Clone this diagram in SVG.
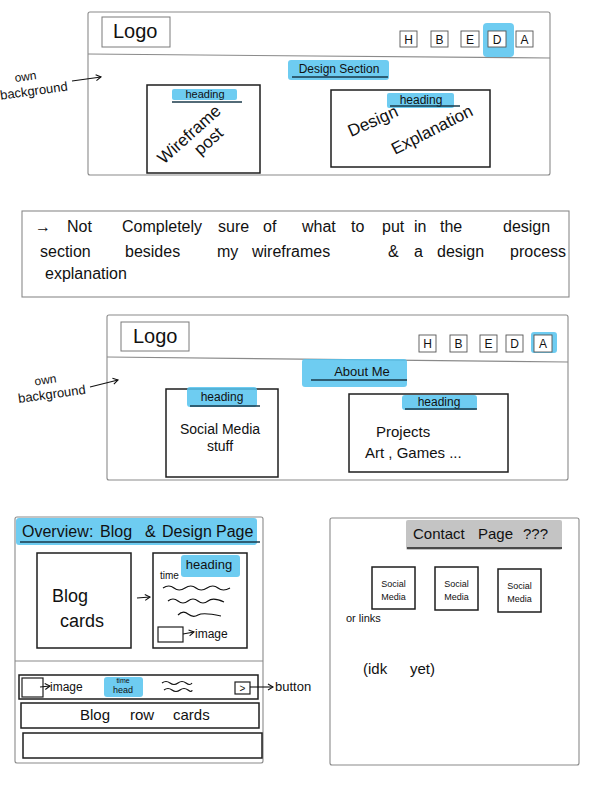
<svg xmlns="http://www.w3.org/2000/svg" width="589" height="786" viewBox="0 0 589 786">
<defs>
<marker id="ah" markerWidth="8" markerHeight="8" refX="6" refY="4" orient="auto" markerUnits="userSpaceOnUse">
<path d="M1,1 L6,4 L1,7" fill="none" stroke="#111" stroke-width="1.1"/>
</marker>
<style>
.frame{fill:#fff;stroke:#8a8a8a;stroke-width:1.1}
.hline{fill:none;stroke:#8a8a8a;stroke-width:1.1}
.logo{fill:#fff;stroke:#7a7a7a;stroke-width:1}
.nav{fill:#fff;stroke:#555;stroke-width:0.9}
.card{fill:none;stroke:#1e1e1e;stroke-width:1.5}
.hl{fill:#55c3ee;opacity:0.85}
.hlg{fill:#c4c4c4}
.ul{fill:none;stroke:#1a3a4a;stroke-width:1.5}
.t{font-family:"Liberation Sans","DejaVu Sans",sans-serif;fill:#111}
.con{fill:none;stroke:#111;stroke-width:1.1}
.sq{fill:none;stroke:#111;stroke-width:1.2}
</style>
</defs>

<!-- Top: Design section page -->
<g id="design-page">
<rect class="frame" x="88" y="12" width="462" height="163" rx="2"/>
<path class="hline" d="M88,54 L550,58"/>
<rect class="logo" x="102" y="17" width="68" height="30"/>
<text class="t" x="113" y="38" font-size="20">Logo</text>
<rect class="hl" x="483" y="23" width="31" height="34" rx="4"/>
<rect class="nav" x="400" y="31" width="17" height="16"/>
<rect class="nav" x="431" y="31" width="17" height="16"/>
<rect class="nav" x="461" y="31" width="18" height="16"/>
<rect class="nav" x="488" y="31" width="18" height="16"/>
<rect class="nav" x="516" y="31" width="17" height="16"/>
<text class="t" x="408.5" y="44" font-size="12" text-anchor="middle">H</text>
<text class="t" x="439.5" y="44" font-size="12" text-anchor="middle">B</text>
<text class="t" x="470" y="44" font-size="12" text-anchor="middle">E</text>
<text class="t" x="497" y="44" font-size="12" text-anchor="middle">D</text>
<text class="t" x="524.5" y="44" font-size="12" text-anchor="middle">A</text>
<rect class="hl" x="288" y="60" width="101" height="20" rx="3"/>
<text class="t" x="339" y="73" font-size="12" text-anchor="middle">Design Section</text>
<path class="ul" d="M292,77 L388,77"/>
<text class="t" x="15" y="80" font-size="12" transform="rotate(-8 30 80)">own</text>
<text class="t" x="0" y="95" font-size="13" transform="rotate(-8 35 92)">background</text>
</g>
<g id="design-card-1">
<rect class="card" x="147" y="85" width="113" height="88"/>
<rect class="hl" x="172" y="89" width="65" height="11" rx="2"/>
<text class="t" x="205" y="98" font-size="11" text-anchor="middle">heading</text>
<path class="ul" d="M172,102 L242,102"/>
<g transform="rotate(-42 195 138)">
<text class="t" x="193" y="137" font-size="17" text-anchor="middle">Wireframe</text>
<text class="t" x="203" y="155" font-size="17" text-anchor="middle">post</text>
</g>
</g>
<g id="design-card-2">
<rect class="card" x="331" y="90" width="159" height="77"/>
<rect class="hl" x="387" y="93" width="67" height="15" rx="2"/>
<text class="t" x="421" y="104" font-size="12" text-anchor="middle">heading</text>
<path class="ul" d="M390,106 L460,106"/>
<text class="t" x="351" y="137" font-size="17" transform="rotate(-24 351 137)">Design</text>
<text class="t" x="395" y="155" font-size="17" transform="rotate(-27 395 155)">Explanation</text>
</g>

<!-- Note box -->
<g id="note">
<rect class="frame" x="22" y="211" width="547" height="86"/>
<text class="t" y="232" font-size="16"><tspan x="35">→</tspan><tspan x="67">Not</tspan><tspan x="122">Completely</tspan><tspan x="218">sure</tspan><tspan x="263">of</tspan><tspan x="302">what</tspan><tspan x="351">to</tspan><tspan x="382">put</tspan><tspan x="414">in</tspan><tspan x="440">the</tspan><tspan x="503">design</tspan></text>
<text class="t" y="257" font-size="16"><tspan x="40">section</tspan><tspan x="125">besides</tspan><tspan x="217">my</tspan><tspan x="252">wireframes</tspan><tspan x="388">&amp;</tspan><tspan x="414">a</tspan><tspan x="437">design</tspan><tspan x="510">process</tspan></text>
<text class="t" x="45" y="279" font-size="16">explanation</text>
</g>

<!-- About me page -->
<g id="about-page">
<rect class="frame" x="107" y="315" width="461" height="165" rx="2"/>
<path class="hline" d="M107,357 L568,362"/>
<rect class="logo" x="121" y="322" width="68" height="29"/>
<text class="t" x="133" y="343" font-size="20">Logo</text>
<rect class="hl" x="531" y="332" width="26" height="21" rx="3"/>
<rect class="nav" x="419" y="335" width="17" height="17"/>
<rect class="nav" x="450" y="335" width="17" height="17"/>
<rect class="nav" x="480" y="335" width="17" height="17"/>
<rect class="nav" x="506" y="335" width="17" height="17"/>
<rect class="nav" x="534" y="335" width="18" height="17"/>
<text class="t" x="427.5" y="348" font-size="12" text-anchor="middle">H</text>
<text class="t" x="458.5" y="348" font-size="12" text-anchor="middle">B</text>
<text class="t" x="488.5" y="348" font-size="12" text-anchor="middle">E</text>
<text class="t" x="514.5" y="348" font-size="12" text-anchor="middle">D</text>
<text class="t" x="543" y="348" font-size="12" text-anchor="middle">A</text>
<rect class="hl" x="302" y="359" width="105" height="28" rx="3"/>
<text class="t" x="362" y="376" font-size="13" text-anchor="middle">About Me</text>
<path class="ul" d="M311,380 L407,380"/>
<text class="t" x="35" y="384" font-size="12" transform="rotate(-8 45 384)">own</text>
<text class="t" x="18" y="398" font-size="13" transform="rotate(-8 55 395)">background</text>
</g>
<g id="about-card-1">
<rect class="card" x="166" y="389" width="112" height="88"/>
<rect class="hl" x="187" y="387" width="70" height="20" rx="3"/>
<text class="t" x="222" y="401" font-size="12" text-anchor="middle">heading</text>
<path class="ul" d="M190,406 L260,406"/>
<text class="t" x="220" y="434" font-size="14" text-anchor="middle">Social Media</text>
<text class="t" x="220" y="451" font-size="14" text-anchor="middle">stuff</text>
</g>
<g id="about-card-2">
<rect class="card" x="349" y="394" width="159" height="78"/>
<rect class="hl" x="402" y="395" width="75" height="15" rx="3"/>
<text class="t" x="439" y="406" font-size="12" text-anchor="middle">heading</text>
<path class="ul" d="M405,409 L477,409"/>
<text class="t" x="376" y="437" font-size="15">Projects</text>
<text class="t" x="365" y="458" font-size="15">Art , Games ...</text>
</g>

<!-- Blog overview page -->
<g id="blog-page">
<rect class="frame" x="15" y="517" width="248" height="246" rx="2"/>
<rect class="hl" x="16" y="518" width="241" height="27" rx="3"/>
<text class="t" y="537" font-size="16"><tspan x="22">Overview</tspan><tspan x="89">:</tspan><tspan x="100">Blog</tspan><tspan x="145">&amp;</tspan><tspan x="162">Design</tspan><tspan x="216">Page</tspan></text>
<path class="ul" d="M20,542 L260,542"/>
<path class="hline" d="M15,661 L263,661"/>
</g>
<g id="blog-cards">
<rect class="card" x="37" y="553" width="94" height="95"/>
<text class="t" x="52" y="602" font-size="18">Blog</text>
<text class="t" x="60" y="627" font-size="18">cards</text>
</g>
<g id="blog-detail">
<rect class="card" x="153" y="553" width="94" height="95"/>
<rect class="hl" x="181" y="555" width="59" height="22" rx="3"/>
<text class="t" x="209" y="569" font-size="13" text-anchor="middle">heading</text>
<text class="t" x="160" y="579" font-size="10">time</text>
<path class="sq" d="M163,588 q6,-4 11,0 t11,0 t11,0 t11,0 t11,0 t12,0"/>
<path class="sq" d="M168,601 q5,-4 10,0 t10,0 t10,0 t10,0 t16,1"/>
<path class="sq" d="M178,615 q5,-5 10,-1 t10,1 t23,1"/>
<rect class="card" x="158" y="627" width="25" height="15" style="stroke-width:1.2"/>
<text class="t" x="195" y="638" font-size="12">image</text>
</g>
<g id="blog-row-1">
<rect class="card" x="19" y="675" width="239" height="24"/>
<rect class="card" x="22" y="678" width="21" height="19" style="stroke-width:1.2"/>
<text class="t" x="50" y="691" font-size="12">image</text>
<rect class="hl" x="104" y="677" width="39" height="20" rx="3"/>
<text class="t" x="123" y="683" font-size="7" text-anchor="middle">time</text>
<text class="t" x="123" y="693" font-size="9" text-anchor="middle">head</text>
<path class="sq" d="M162,683 q4,-3 8,0 t8,0 t8,0 t6,0"/>
<path class="sq" d="M164,690 q4,-3 8,0 t8,0 t8,0 t4,0"/>
<rect class="card" x="235" y="682" width="15" height="12" style="stroke-width:1.2"/>
<text class="t" x="242.5" y="692" font-size="10" text-anchor="middle">&gt;</text>
<text class="t" x="275" y="691" font-size="13">button</text>
</g>
<g id="blog-row-2">
<rect class="card" x="21" y="703" width="238" height="25"/>
<text class="t" x="80" y="720" font-size="15">Blog</text>
<text class="t" x="130" y="720" font-size="15">row</text>
<text class="t" x="173" y="720" font-size="15">cards</text>
</g>
<g id="blog-row-3">
<rect class="card" x="23" y="733" width="239" height="25"/>
</g>

<!-- Contact page -->
<g id="contact-page">
<rect class="frame" x="330" y="518" width="249" height="247" rx="2"/>
<rect class="hlg" x="406" y="520" width="156" height="30" rx="2"/>
<text class="t" y="539" font-size="15"><tspan x="413">Contact</tspan><tspan x="478">Page</tspan><tspan x="523">???</tspan></text>
<path class="ul" d="M407,548 L562,548" style="stroke:#222"/>
<text class="t" x="346" y="622" font-size="11">or links</text>
<text class="t" y="674" font-size="15"><tspan x="363">(idk</tspan><tspan x="410">yet)</tspan></text>
</g>
<g id="social-1">
<rect class="card" x="372" y="567" width="43" height="42"/>
<text class="t" x="393.5" y="587" font-size="9" text-anchor="middle">Social</text>
<text class="t" x="393.5" y="600" font-size="9" text-anchor="middle">Media</text>
</g>
<g id="social-2">
<rect class="card" x="435" y="567" width="43" height="43"/>
<text class="t" x="456.5" y="587" font-size="9" text-anchor="middle">Social</text>
<text class="t" x="456.5" y="600" font-size="9" text-anchor="middle">Media</text>
</g>
<g id="social-3">
<rect class="card" x="498" y="569" width="43" height="43"/>
<text class="t" x="519.5" y="589" font-size="9" text-anchor="middle">Social</text>
<text class="t" x="519.5" y="602" font-size="9" text-anchor="middle">Media</text>
</g>

<!-- Connectors -->
<g id="connectors">
<path class="con" d="M72,81 L101,77" marker-end="url(#ah)"/>
<path class="con" d="M90,387 L118,380" marker-end="url(#ah)"/>
<path class="con" d="M137,598 L150,597" marker-end="url(#ah)"/>
<path class="con" d="M183,634 L194,632" marker-end="url(#ah)"/>
<path class="con" d="M40,687 L50,686" marker-end="url(#ah)"/>
<path class="con" d="M250,687 L273,687" marker-end="url(#ah)"/>
</g>
</svg>
